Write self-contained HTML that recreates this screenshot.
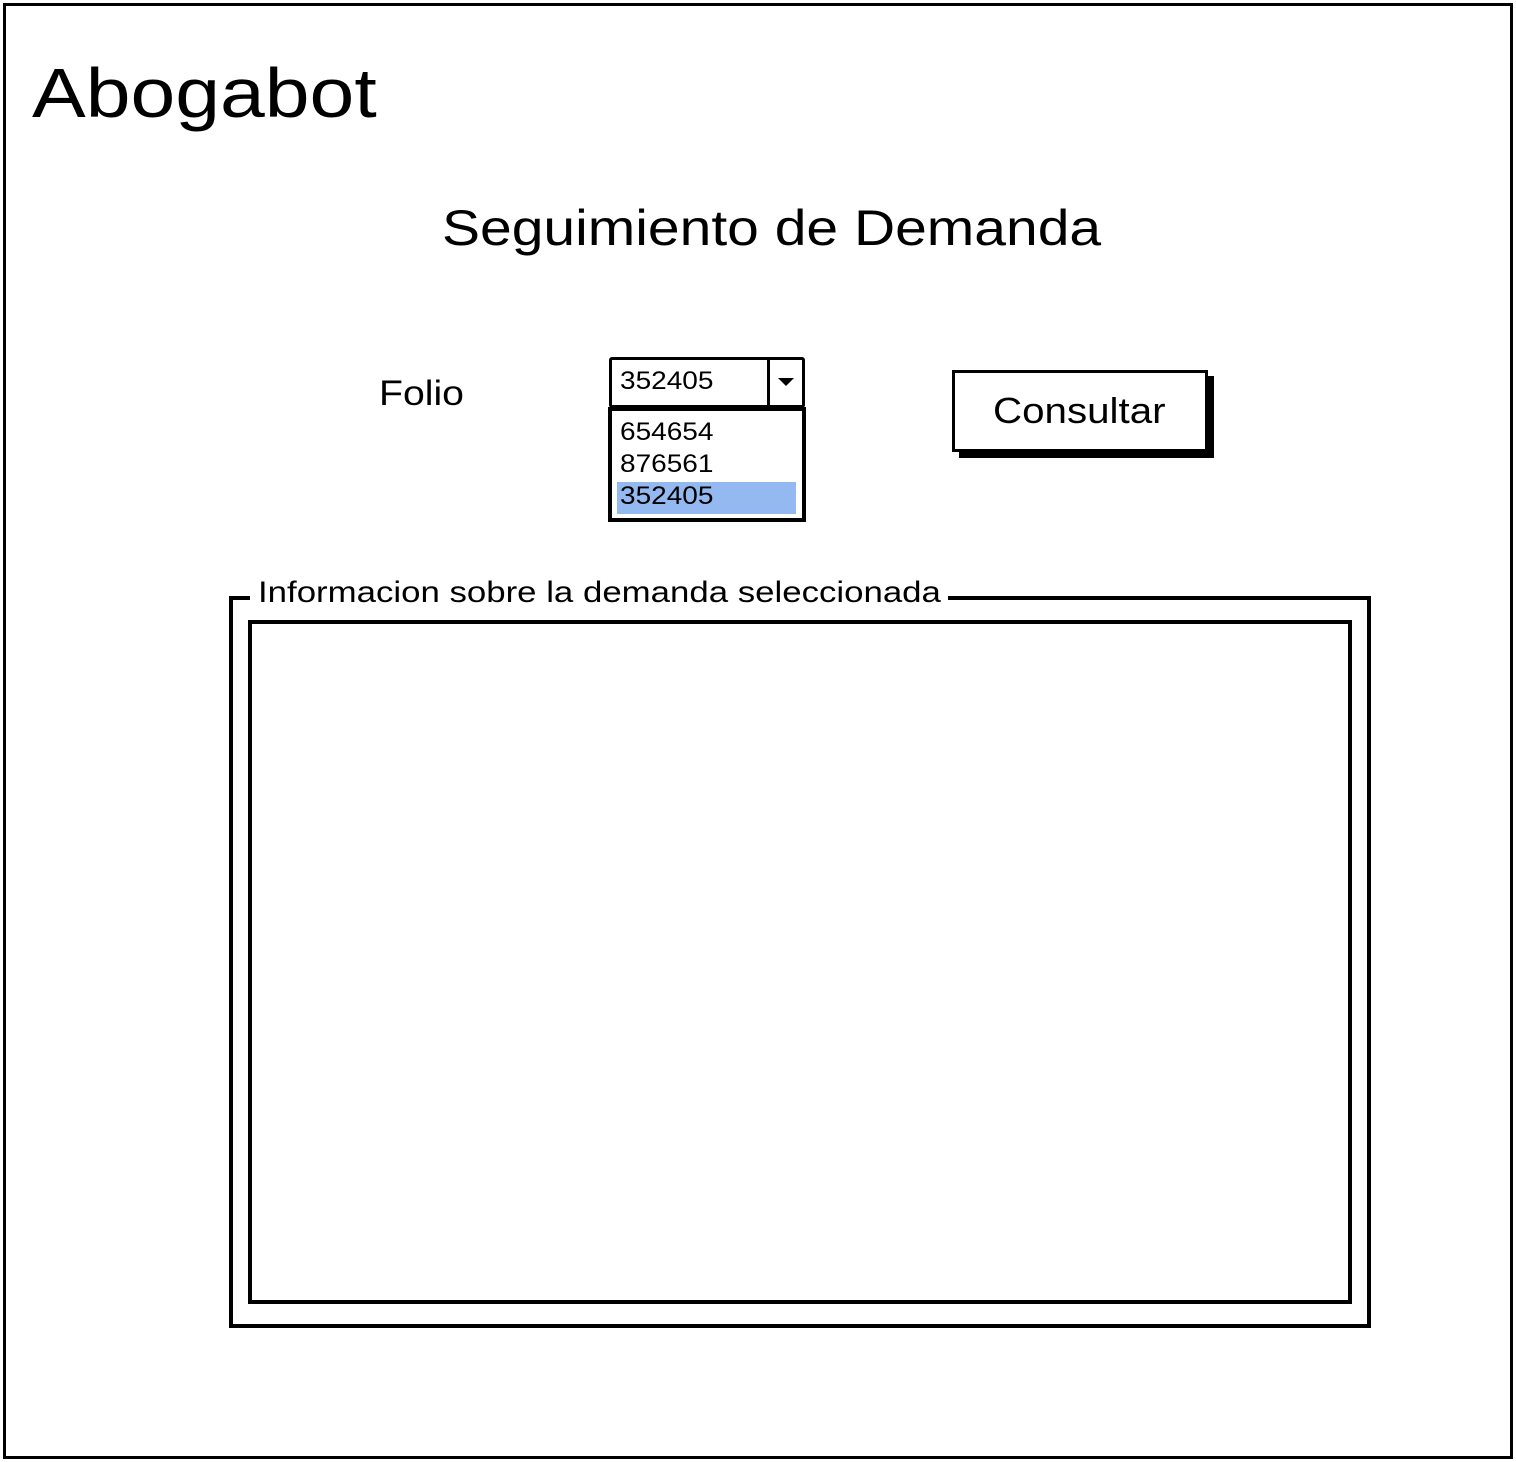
<!DOCTYPE html>
<html><head><meta charset="utf-8"><style>
body{margin:0;width:1516px;height:1462px;background:#fff;position:relative;font-family:"Liberation Sans",sans-serif;color:#000;overflow:hidden}
.a{position:absolute;box-sizing:border-box}
.s{display:inline-block;transform-origin:0 50%}
</style></head><body>
<div class="a" style="left:3px;top:3px;width:1510px;height:1456px;border:3px solid #000"></div>
<div class="a" style="left:32px;top:48px;font-size:70px;line-height:90px"><span class="s" style="transform:scaleX(1.15)">Abogabot</span></div>
<div class="a" style="left:442px;top:198px;font-size:50px;line-height:60px"><span class="s" style="transform:scaleX(1.14)">Seguimiento de Demanda</span></div>
<div class="a" style="left:379px;top:374px;font-size:35px;line-height:40px"><span class="s" style="transform:scaleX(1.12)">Folio</span></div>
<div class="a" style="left:609px;top:357px;width:196px;height:51px;border:3px solid #000;border-radius:3px"></div>
<div class="a" style="left:767px;top:359px;width:3px;height:48px;background:#000"></div>
<div class="a" style="left:778px;top:378px;width:0;height:0;border-left:8px solid transparent;border-right:8px solid transparent;border-top:8px solid #000"></div>
<div class="a" style="left:620px;top:366px;font-size:25px;line-height:30px"><span class="s" style="transform:scaleX(1.12)">352405</span></div>
<div class="a" style="left:608px;top:407px;width:198px;height:115px;border:4px solid #000"></div>
<div class="a" style="left:617px;top:482px;width:179px;height:32px;background:#94b9f0"></div>
<div class="a" style="left:620px;top:416px;font-size:25px;line-height:32px"><span class="s" style="transform:scaleX(1.12)">654654<br>876561<br>352405</span></div>
<div class="a" style="left:959px;top:376px;width:255px;height:82px;background:#000"></div>
<div class="a" style="left:952px;top:370px;width:256px;height:82px;border:3px solid #000;background:#fff;font-size:36px;line-height:76px"><span class="s" style="position:absolute;left:38px;transform:scaleX(1.12)">Consultar</span></div>
<div class="a" style="left:229px;top:596px;width:1142px;height:732px;border:4px solid #000"></div>
<div class="a" style="left:248px;top:620px;width:1104px;height:684px;border:4px solid #000"></div>
<div class="a" style="left:250px;top:576px;width:698px;padding:0 8px;background:#fff;font-size:30px;line-height:34px;white-space:nowrap"><span class="s" style="transform:scaleX(1.16)">Informacion sobre la demanda seleccionada</span></div>
</body></html>
